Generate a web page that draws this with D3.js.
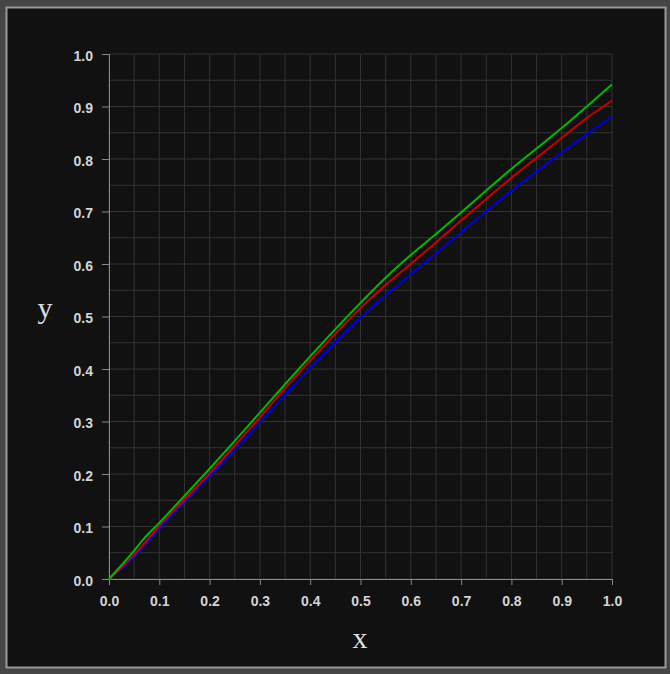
<!DOCTYPE html>
<html>
  <head>
    <style>
      body { margin: 0; background: #454545; }
      svg { display: block; }
      .tick text { font-family: "Liberation Sans", Arial, sans-serif; font-weight: bold; font-size: 14px; fill: #d4d4d4; }
      .axis path, .axis line { stroke: #8a8a8a; }
      .grid line { stroke: #333; stroke-width: 1; }
      .label { font-family: "Liberation Serif", "Times New Roman", serif; font-size: 30px; fill: #ddd; }
    </style>
  </head>

  <body>

    <svg class="surface" width="670" height="674"></svg>

    <script src="https://cdn.jsdelivr.net/npm/d3@7/dist/d3.min.js" charset="utf-8"></script>
    <script>

      // values
      const xs    = [0, 0.05, 0.067, 0.1, 0.15, 0.2, 0.25, 0.3, 0.35, 0.4, 0.45, 0.5, 0.55, 0.6, 0.65, 0.7, 0.75, 0.8, 0.85, 0.9, 0.95, 1.0]
      const green = [0, 0.054, 0.074, 0.107, 0.158, 0.210, 0.263, 0.317, 0.371, 0.424, 0.476, 0.526, 0.574, 0.617, 0.657, 0.698, 0.740, 0.781, 0.820, 0.859, 0.900, 0.942]
      const red   = [0, 0.046, 0.064, 0.101, 0.151, 0.201, 0.254, 0.308, 0.363, 0.416, 0.467, 0.516, 0.560, 0.600, 0.641, 0.683, 0.724, 0.764, 0.802, 0.840, 0.878, 0.911]
      const blue  = [0, 0.043, 0.060, 0.096, 0.146, 0.195, 0.245, 0.297, 0.350, 0.401, 0.450, 0.497, 0.540, 0.580, 0.620, 0.660, 0.700, 0.739, 0.776, 0.812, 0.847, 0.881]
      const tickVals = [0, 0.1, 0.2, 0.3, 0.4, 0.5, 0.6, 0.7, 0.8, 0.9, 1.0]
      const gridVals = d3.range(0, 21).map(i => i * 0.05)

      const series = [
        { name: 'blue', color: '#0000dd', values: blue },
        { name: 'red', color: '#c80000', values: red },
        { name: 'green', color: '#00bb00', values: green }
      ]

      const surface = d3.select('.surface')

      // panel
      surface.append('rect')
        .attr('x', 6.5).attr('y', 7.5)
        .attr('width', 659).attr('height', 660)
        .attr('fill', '#111')
        .attr('stroke', '#9a9a9a')
        .attr('stroke-width', 2)

      const m = { left: 109, right: 612, top: 54, bottom: 579 }

      const x = d3.scaleLinear().domain([0, 1]).range([m.left, m.right])
      const y = d3.scaleLinear().domain([0, 1]).range([m.bottom, m.top])

      // grid
      const grid = surface.append('g').attr('class', 'grid')
      grid.selectAll('.gx').data(gridVals).enter()
        .append('line')
        .attr('x1', d => x(d)).attr('x2', d => x(d))
        .attr('y1', m.top).attr('y2', m.bottom)
      grid.selectAll('.gy').data(gridVals).enter()
        .append('line')
        .attr('x1', m.left).attr('x2', m.right)
        .attr('y1', d => y(d)).attr('y2', d => y(d))

      // axes
      surface.append('g')
        .attr('class', 'axis')
        .attr('transform', `translate(0,${m.bottom})`)
        .call(d3.axisBottom(x).tickValues(tickVals).tickFormat(d3.format('.1f')).tickSize(6).tickSizeOuter(6).tickPadding(11))

      surface.append('g')
        .attr('class', 'axis')
        .attr('transform', `translate(${m.left},0)`)
        .call(d3.axisLeft(y).tickValues(tickVals).tickFormat(d3.format('.1f')).tickSize(7).tickSizeOuter(7).tickPadding(9))
        .selectAll('.tick text').attr('dy', '0.45em')

      // lines
      const line = d3.line()
        .x((d, i) => x(xs[i]))
        .y(d => y(d))
        .curve(d3.curveMonotoneX)

      surface.selectAll('.series').data(series).enter()
        .append('path')
        .attr('class', 'series')
        .attr('fill', 'none')
        .attr('stroke', d => d.color)
        .attr('stroke-width', 2)
        .attr('d', d => line(d.values))

      // labels
      surface.append('text').attr('class', 'label')
        .attr('x', 45).attr('y', 318)
        .attr('text-anchor', 'middle')
        .text('y')

      surface.append('text').attr('class', 'label')
        .attr('x', 360).attr('y', 648)
        .attr('text-anchor', 'middle')
        .text('x')

    </script>
  </body>

</html>
